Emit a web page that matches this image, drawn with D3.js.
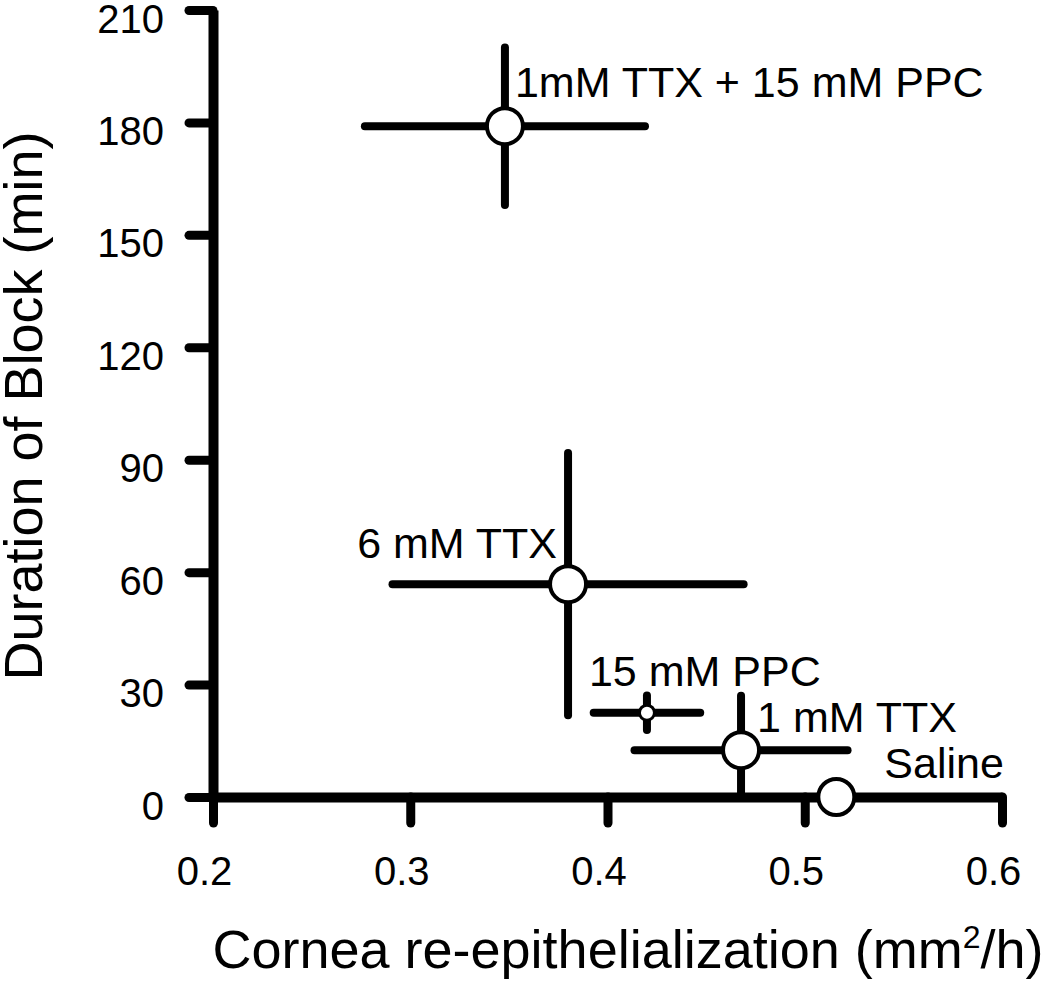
<!DOCTYPE html>
<html>
<head>
<meta charset="utf-8">
<script src="https://cdn.jsdelivr.net/npm/d3@7"></script>
<style>
  body { margin: 0; background: #fff; }
  text { font-family: "Liberation Sans", Arial, sans-serif; fill: #000; }
</style>
</head>
<body>
<div class="canvas"></div>
<script>
// data
const groups = ['1mM TTX + 15 mM PPC', '6 mM TTX', '15 mM PPC', '1 mM TTX', 'Saline']
const rate = [0.348, 0.38, 0.42, 0.4677, 0.516]       // mm2/h
const rateErr = [0.071, 0.089, 0.027, 0.054, 0]
const block = [179, 56.8, 22.5, 12.5, 0]              // min
const blockErr = [21, 35, 4.6, 14.5, 0]
const xTicks = [0.2, 0.3, 0.4, 0.5, 0.6]
const yTicks = [0, 30, 60, 90, 120, 150, 180, 210]

// label placement and marker size (style only)
const labelPos = {
  '1mM TTX + 15 mM PPC': { dx: 10, dy: -29, anchor: 'start' },
  '6 mM TTX': { dx: -11, dy: -26, anchor: 'end' },
  '15 mM PPC': { dx: -58, dy: -27, anchor: 'start' },
  '1 mM TTX': { dx: 16, dy: -18, anchor: 'start' },
  'Saline': { dx: 48, dy: -19, anchor: 'start' }
}
const smallMarker = ['15 mM PPC']

const data = groups.map((g, i) => ({
  name: g, x: rate[i], xe: rateErr[i], y: block[i], ye: blockErr[i]
}))

const svg = d3.select('.canvas')
  .append('svg')
  .attr('width', 1050)
  .attr('height', 981)

const x = d3.scaleLinear().domain([0.2, 0.6]).range([213, 1002])
const y = d3.scaleLinear().domain([0, 210]).range([797, 10])

// axes
const yAxisGroup = svg.append('g').attr('transform', `translate(${x(0.2)},0)`)
const xAxisGroup = svg.append('g').attr('transform', `translate(0,${y(0)})`)

yAxisGroup.call(d3.axisLeft(y).tickValues(yTicks).tickSize(24).tickSizeOuter(0).tickPadding(25))
xAxisGroup.call(d3.axisBottom(x).tickValues(xTicks).tickSize(26).tickSizeOuter(0)
  .tickFormat(d3.format('.1f')))

svg.selectAll('.domain')
  .attr('stroke', '#000')
  .attr('stroke-width', 10)
svg.selectAll('.tick line')
  .attr('stroke', '#000')
  .attr('stroke-width', 9)
  .attr('stroke-linecap', 'round')

yAxisGroup.selectAll('.tick text')
  .attr('font-size', 40)
  .attr('dy', '0.55em')
xAxisGroup.selectAll('.tick text')
  .attr('font-size', 40)
  .attr('y', 88)
  .attr('dy', 0)
  .attr('dx', -9)

// error bars
const bars = svg.append('g')
  .attr('stroke', '#000')
  .attr('stroke-width', 8)
  .attr('stroke-linecap', 'round')

bars.selectAll('line.xe')
  .data(data.filter(d => d.xe > 0))
  .enter()
  .append('line')
  .attr('class', 'xe')
  .attr('x1', d => x(d.x - d.xe))
  .attr('x2', d => x(d.x + d.xe))
  .attr('y1', d => y(d.y))
  .attr('y2', d => y(d.y))

bars.selectAll('line.ye')
  .data(data.filter(d => d.ye > 0))
  .enter()
  .append('line')
  .attr('class', 'ye')
  .attr('x1', d => x(d.x))
  .attr('x2', d => x(d.x))
  .attr('y1', d => y(d.y + d.ye))
  .attr('y2', d => y(Math.max(0, d.y - d.ye)))

// markers
svg.append('g')
  .selectAll('circle')
  .data(data)
  .enter()
  .append('circle')
  .attr('cx', d => x(d.x))
  .attr('cy', d => y(d.y))
  .attr('r', d => smallMarker.includes(d.name) ? 7.5 : 18)
  .attr('fill', '#fff')
  .attr('stroke', '#000')
  .attr('stroke-width', d => smallMarker.includes(d.name) ? 3 : 4)

// point labels
svg.append('g')
  .selectAll('text')
  .data(data)
  .enter()
  .append('text')
  .attr('x', d => x(d.x) + labelPos[d.name].dx)
  .attr('y', d => y(d.y) + labelPos[d.name].dy)
  .attr('text-anchor', d => labelPos[d.name].anchor)
  .attr('font-size', 43)
  .text(d => d.name)

// axis titles
const xTitle = svg.append('text')
  .attr('x', 628)
  .attr('y', 968)
  .attr('text-anchor', 'middle')
  .attr('font-size', 54)
xTitle.append('tspan').text('Cornea re-epithelialization (mm')
xTitle.append('tspan').attr('font-size', 32).attr('dy', -20).text('2')
xTitle.append('tspan').attr('dy', 20).text('/h)')

svg.append('text')
  .attr('transform', 'translate(42,406) rotate(-90)')
  .attr('text-anchor', 'middle')
  .attr('font-size', 54)
  .text('Duration of Block (min)')
</script>
</body>
</html>
